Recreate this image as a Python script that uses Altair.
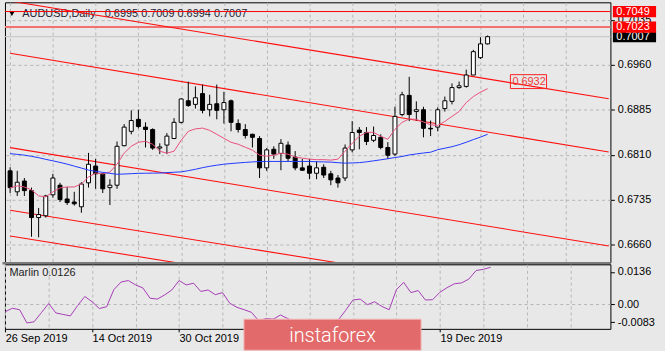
import altair as alt
import pandas as pd

# ---------------- data (AUDUSD, Daily) ----------------
# bar index 0 = 26 Sep 2019
opens = [0.6783, 0.6748, 0.6766, 0.6750, 0.6705, 0.6708, 0.6743, 0.6759, 0.6736, 0.6731,
         0.6723, 0.6763, 0.6791, 0.6778, 0.6755, 0.6759, 0.6825, 0.6849, 0.6869, 0.6856,
         0.6852, 0.6821, 0.6826, 0.6837, 0.6864, 0.6900, 0.6894, 0.6912, 0.6885, 0.6895,
         0.6885, 0.6900, 0.6862, 0.6852, 0.6844, 0.6837, 0.6788, 0.6819, 0.6812, 0.6826,
         0.6806, 0.6788, 0.6791, 0.6779, 0.6789, 0.6778, 0.6771, 0.6771, 0.6818, 0.6851,
         0.6847, 0.6834, 0.6839, 0.6822, 0.6811, 0.6877, 0.6909, 0.6882, 0.6885, 0.6854,
         0.6856, 0.6887, 0.6899, 0.6922, 0.6924, 0.6943, 0.6972, 0.6995]
highs = [0.6789, 0.6783, 0.6771, 0.6755, 0.6721, 0.6743, 0.6778, 0.6763, 0.6756, 0.6748,
         0.6764, 0.6813, 0.6803, 0.6779, 0.6769, 0.6832, 0.6861, 0.6884, 0.6885, 0.6864,
         0.6854, 0.6829, 0.6846, 0.6871, 0.6904, 0.6932, 0.6924, 0.6927, 0.6910, 0.6927,
         0.6915, 0.6902, 0.6869, 0.6861, 0.6845, 0.6841, 0.6821, 0.6824, 0.6836, 0.6832,
         0.6816, 0.6803, 0.6803, 0.6799, 0.6794, 0.6783, 0.6776, 0.6827, 0.6866, 0.6856,
         0.6856, 0.6857, 0.6844, 0.6831, 0.6890, 0.6915, 0.6940, 0.6899, 0.6890, 0.6867,
         0.6889, 0.6907, 0.6929, 0.6932, 0.6952, 0.6985, 0.7006, 0.7009]
lows = [0.6746, 0.6741, 0.6741, 0.6673, 0.6672, 0.6705, 0.6738, 0.6731, 0.6726, 0.6725,
        0.6713, 0.6755, 0.6753, 0.6746, 0.6726, 0.6753, 0.6824, 0.6844, 0.6854, 0.6822,
        0.6818, 0.6811, 0.6811, 0.6836, 0.6862, 0.6890, 0.6887, 0.6879, 0.6874, 0.6869,
        0.6862, 0.6849, 0.6847, 0.6837, 0.6822, 0.6771, 0.6783, 0.6803, 0.6784, 0.6799,
        0.6784, 0.6783, 0.6769, 0.6769, 0.6771, 0.6759, 0.6755, 0.6766, 0.6814, 0.6819,
        0.6826, 0.6831, 0.6819, 0.6803, 0.6808, 0.6874, 0.6866, 0.6867, 0.6839, 0.6841,
        0.6849, 0.6882, 0.6894, 0.6920, 0.6922, 0.6943, 0.6970, 0.6994]
closes = [0.6755, 0.6764, 0.6750, 0.6705, 0.6710, 0.6741, 0.6771, 0.6735, 0.6730, 0.6728,
          0.6761, 0.6794, 0.6778, 0.6753, 0.6759, 0.6824, 0.6856, 0.6867, 0.6857, 0.6852,
          0.6821, 0.6823, 0.6841, 0.6864, 0.6903, 0.6892, 0.6905, 0.6884, 0.6894, 0.6884,
          0.6897, 0.6864, 0.6852, 0.6842, 0.6839, 0.6788, 0.6818, 0.6811, 0.6829, 0.6804,
          0.6788, 0.6784, 0.6779, 0.6788, 0.6776, 0.6768, 0.6763, 0.6821, 0.6847, 0.6847,
          0.6832, 0.6842, 0.6822, 0.6809, 0.6874, 0.6910, 0.6877, 0.6885, 0.6854, 0.6853,
          0.6885, 0.6900, 0.6922, 0.6925, 0.6943, 0.6982, 0.6995, 0.7007]
ma_fast = [0.67545, 0.67578, 0.67561, 0.67512, 0.67412, 0.67396, 0.67478, 0.67545, 0.67561, 0.67561,
           0.67611, 0.67727, 0.67793, 0.67777, 0.67810, 0.67942, 0.68125, 0.68241, 0.68307, 0.68324,
           0.68274, 0.68158, 0.68125, 0.68158, 0.68340, 0.68490, 0.68531, 0.68544, 0.68506, 0.68440,
           0.68373, 0.68307, 0.68274, 0.68224, 0.68175, 0.68092, 0.68075, 0.68092, 0.68125, 0.68108,
           0.68059, 0.68042, 0.68025, 0.68017, 0.68017, 0.68009, 0.68025, 0.68158, 0.68291, 0.68407,
           0.68473, 0.68473, 0.68407, 0.68357, 0.68523, 0.68639, 0.68697, 0.68688, 0.68647, 0.68597,
           0.68589, 0.68655, 0.68738, 0.68821, 0.68970, 0.69070, 0.69144, 0.69202]
ma_slow = [0.68117, 0.68105, 0.68092, 0.68072, 0.68050, 0.68022, 0.67997, 0.67971, 0.67942, 0.67909,
           0.67876, 0.67843, 0.67822, 0.67805, 0.67788, 0.67773, 0.67777, 0.67783, 0.67788, 0.67790,
           0.67792, 0.67793, 0.67800, 0.67807, 0.67813, 0.67833, 0.67856, 0.67883, 0.67906, 0.67924,
           0.67941, 0.67952, 0.67962, 0.67971, 0.67979, 0.67986, 0.67987, 0.67987, 0.67987, 0.67987,
           0.67987, 0.67987, 0.67987, 0.67982, 0.67979, 0.67976, 0.67966, 0.67959, 0.67962, 0.67967,
           0.67980, 0.67997, 0.68014, 0.68032, 0.68052, 0.68070, 0.68095, 0.68112, 0.68128, 0.68141,
           0.68183, 0.68208, 0.68233, 0.68266, 0.68307, 0.68352, 0.68393, 0.68440]
marlin = [-0.0025, -0.0013, -0.0018, -0.0063, -0.0059, -0.0028, 0.0003, -0.0029, -0.0034, -0.0039,
          -0.0004, 0.0027, 0.0009, -0.0014, -0.0008, 0.0050, 0.0076, 0.0081, 0.0066, 0.0056,
          0.0021, 0.0018, 0.0032, 0.0049, 0.0081, 0.0066, 0.0072, 0.0044, 0.0049, 0.0033,
          0.0040, 0.0004, -0.0010, -0.0018, -0.0027, -0.0056, -0.0048, -0.0050, -0.0036, -0.0048,
          -0.0063, -0.0076, -0.0083, -0.0076, -0.0080, -0.0069, -0.0052, -0.0020, 0.0015, 0.0018,
          -0.0001, 0.0009, -0.0007, -0.0018, 0.0050, 0.0075, 0.0040, 0.0047, 0.0015, 0.0016,
          0.0041, 0.0057, 0.0070, 0.0073, 0.0086, 0.0115, 0.0119, 0.0126]

# visible date labels (the ones at bars 36 and 48 are hidden under the watermark)
tick_bars = [0, 12, 24, 60]
tick_dates = ["26 Sep 2019", "14 Oct 2019", "30 Oct 2019", "19 Dec 2019"]
grid_bars = [0, 6, 12, 18, 24, 30, 36, 42, 48, 54, 60, 66, 72, 78]
price_ticks = [0.6660, 0.6735, 0.6810, 0.6885, 0.6960, 0.7035]
marlin_tick_pos = [0.0110, 0.0, -0.0061]
marlin_tick_text = ["0.0136", "0.00", "-0.0083"]

# channel lines: (name, bar start, price start, bar end, price end)
ch_names = ["A", "B", "C", "D", "E"]
ch_bar0 = [0, 0, 0, 0, 0]
ch_p0 = [0.70665, 0.69792, 0.68218, 0.67173, 0.66742]
ch_bar1 = [84, 84, 84, 84, 84]
ch_p1 = [0.69033, 0.68145, 0.66575, 0.65567, 0.65136]

level_red = 0.7049
level_pink = 0.7023
last_price = 0.7007
tag_bar = 70.2
tag_price = 0.6932
title_text = "AUDUSD,Daily\u00a0\u00a0 0.6995 0.7009 0.6994 0.7007"
marlin_text = "Marlin 0.0126"

# ---------------- chart ----------------
X_DOMAIN = [-0.027, 83.535]
P_DOMAIN = [0.66302, 0.70644]
M_DOMAIN = [-0.0083, 0.0136]
W, H1, H2 = 610, 262, 65
FONT = "Liberation Sans"
GRID = "#b5b5b5"
BG = "#e8e8e8"

df = pd.DataFrame({"bar": list(range(len(opens))), "o": opens, "h": highs, "l": lows,
                   "c": closes, "fast": ma_fast, "slow": ma_slow, "marlin": marlin})

xs = alt.Scale(domain=X_DOMAIN, nice=False, zero=False)
ys = alt.Scale(domain=P_DOMAIN, nice=False, zero=False)
ms = alt.Scale(domain=M_DOMAIN, nice=False, zero=False)

x_axis_main = alt.Axis(values=grid_bars, labels=False, ticks=False, domain=False, grid=True,
                       gridColor=GRID, gridDash=[3, 3], title=None)
expr = "''"
for b, t in reversed(list(zip(tick_bars, tick_dates))):
    expr = f"datum.value == {b} ? '{t}' : ({expr})"
tick_test = "indexof([" + ",".join(str(b) for b in tick_bars) + "], datum.value) >= 0"
x_axis_ind = alt.Axis(values=grid_bars, labelExpr=expr, grid=True, gridColor=GRID, gridDash=[3, 3],
                      domain=False, tickSize=3,
                      tickColor={"condition": {"test": tick_test, "value": "#000000"}, "value": "transparent"},
                      labelAlign="left", labelPadding=1, labelFont=FONT, labelFontSize=11,
                      labelColor="#000000", labelFlush=False, labelOverlap=False, title=None)
y_axis_main = alt.Axis(orient="right", values=price_ticks, format=".4f", grid=True, gridColor=GRID,
                       gridDash=[3, 3], domain=False, tickSize=4, tickColor="#000000", labelPadding=3,
                       labelFont=FONT, labelFontSize=11, labelColor="#000000", title=None)
mexpr = "''"
for v, t in reversed(list(zip(marlin_tick_pos, marlin_tick_text))):
    mexpr = f"abs(datum.value - ({v})) < 0.0002 ? '{t}' : ({mexpr})"
m_axis = alt.Axis(orient="right", values=marlin_tick_pos, labelExpr=mexpr, grid=True,
                  gridColor={"condition": {"test": "abs(datum.value) < 0.0002", "value": GRID}, "value": "transparent"},
                  gridDash=[3, 3], domain=False, tickSize=4, tickColor="#000000", labelPadding=3,
                  labelFont=FONT, labelFontSize=11, labelColor="#000000", title=None)


def X(f):
    return alt.X(f, type="quantitative", scale=xs, axis=x_axis_main)


def Y(f):
    return alt.Y(f, type="quantitative", scale=ys, axis=y_axis_main)


def XI(f):
    return alt.X(f, type="quantitative", scale=xs, axis=x_axis_ind)


def M(f):
    return alt.Y(f, type="quantitative", scale=ms, axis=m_axis)


one = pd.DataFrame({"a": [0]})
base = alt.Chart(df)

title = alt.Chart(pd.DataFrame({"t": [title_text]})).mark_text(
    align="left", baseline="middle", font=FONT, fontSize=11, color="#1e1e34").encode(
    x=alt.value(17.5), y=alt.value(12), text="t:N")
tri = alt.Chart(one).mark_point(shape="triangle-down", filled=True, color="#000000", size=28, opacity=1).encode(
    x=alt.value(7), y=alt.value(11.5))

cur_line = alt.Chart(pd.DataFrame({"p": [last_price]})).mark_rule(color="#c4c4c4", strokeWidth=1).encode(y=Y("p"))
red_line = alt.Chart(pd.DataFrame({"p": [level_red]})).mark_rule(color="#ff0000", strokeWidth=1).encode(y=Y("p"))
pink_line = alt.Chart(pd.DataFrame({"p": [level_pink]})).mark_rule(color="#f27070", strokeWidth=2).encode(y=Y("p"))

rows = []
for nm, b0, p0, b1, p1 in zip(ch_names, ch_bar0, ch_p0, ch_bar1, ch_p1):
    rows += [{"name": nm, "bar": b0, "p": p0}, {"name": nm, "bar": b1, "p": p1}]
channels = alt.Chart(pd.DataFrame(rows)).mark_line(color="#ff1010", strokeWidth=1.1, clip=True).encode(
    x=X("bar"), y=Y("p"), detail="name:N")

wicks = base.mark_rule(color="#000000", strokeWidth=1).encode(x=X("bar"), y=Y("l"), y2="h")
bodies = base.mark_bar(size=4, stroke="#000000", strokeWidth=1).encode(
    x=X("bar"), y=Y("o"), y2="c",
    fill=alt.condition("datum.c >= datum.o", alt.value("#ffffff"), alt.value("#000000")))
fast = base.mark_line(color="#e8507c", strokeWidth=1).encode(x=X("bar"), y=Y("fast"))
slow = base.mark_line(color="#2038ff", strokeWidth=1).encode(x=X("bar"), y=Y("slow"))

tag = alt.Chart(pd.DataFrame({"bar": [tag_bar], "p": [tag_price], "t": ["0.6932"]}))
tag_box = tag.transform_calculate(
    x0="datum.bar", x1="datum.bar + 5.07", y0="datum.p - 0.00116", y1="datum.p + 0.00116").mark_rect(
    fill="#e8e8e8", fillOpacity=0.0, stroke="#ff2020", strokeWidth=1).encode(
    x=X("x0:Q"), x2="x1:Q", y=Y("y0:Q"), y2="y1:Q")
tag_txt = tag.mark_text(align="left", baseline="middle", dx=2, font=FONT, fontSize=11, color="#f03a3a").encode(
    x=X("bar"), y=Y("p"), text="t:N")

axis_tags = []
for p, fillc in [(last_price, "#000000"), (level_pink, "#ff0000"), (level_red, "#ff0000")]:
    d = alt.Chart(pd.DataFrame({"p": [p], "t": [f"{p:.4f}"]}))
    axis_tags.append(d.transform_calculate(y0="datum.p - 0.00094", y1="datum.p + 0.00094").mark_rect(
        fill=fillc, clip=False).encode(x=alt.value(612.5), x2=alt.value(656), y=Y("y0:Q"), y2="y1:Q"))
    axis_tags.append(d.mark_text(align="left", baseline="middle", font=FONT, fontSize=11, color="#ffffff",
                                 clip=False).encode(x=alt.value(616), y=Y("p"), text="t:N"))

sep = alt.Chart(one).mark_rule(color="#7a7a7a", strokeWidth=2.5, clip=False).encode(
    x=alt.value(-2.5), x2=alt.value(610.5), y=alt.value(263))

main = alt.layer(title, tri, cur_line, red_line, pink_line, channels, wicks, bodies, fast, slow,
                 tag_box, tag_txt, *axis_tags, sep).properties(width=W, height=H1)

mline = base.mark_line(color="#a53db5", strokeWidth=1).encode(x=XI("bar"), y=M("marlin"))
mlabel = alt.Chart(pd.DataFrame({"t": [marlin_text]})).mark_text(
    align="left", baseline="middle", font=FONT, fontSize=11, color="#1e1e1e").encode(
    x=alt.value(4.5), y=alt.value(9), text="t:N")
wm_rect = alt.Chart(one).mark_rect(fill="#e36a6a", stroke="#f3b3b3", strokeWidth=1, clip=False).encode(
    x=alt.value(240.8), x2=alt.value(419.2), y=alt.value(55.3), y2=alt.value(86.5))
wm_text = alt.Chart(pd.DataFrame({"t": ["instaforex"]})).mark_text(
    align="center", baseline="middle", font="Roboto", fontSize=20, fontWeight=300, color="#ffffff",
    clip=False).encode(x=alt.value(330), y=alt.value(72.5), text="t:N")

ind = alt.layer(mline, mlabel, wm_rect, wm_text).properties(width=W, height=H2)

chart = alt.vconcat(main, ind, spacing=2, bounds="flush").resolve_scale(
    x="independent", y="independent").properties(
    padding={"left": 0, "top": 0, "right": 8, "bottom": 0}, background=BG).configure_view(
    stroke="#000000", strokeWidth=1)

chart.save("out.html", embed_options={"renderer": "svg", "actions": False})
